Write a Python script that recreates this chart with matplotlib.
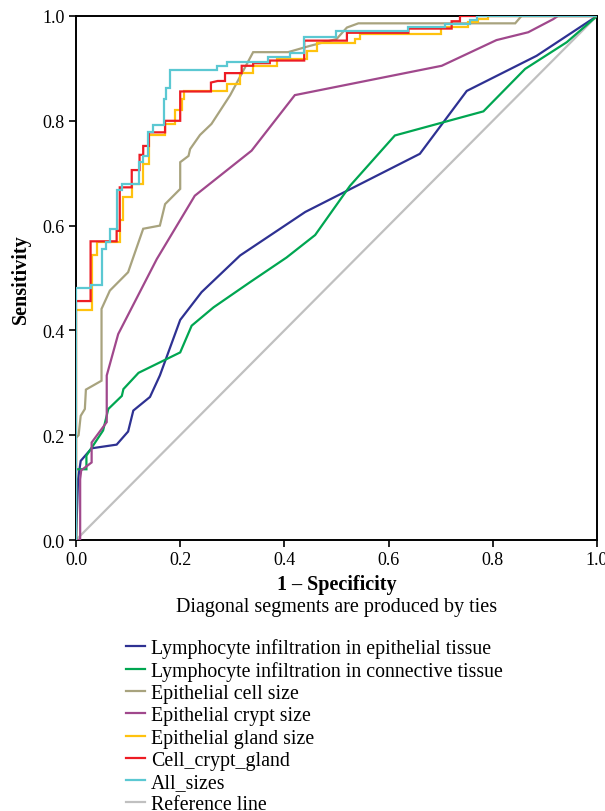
import matplotlib
matplotlib.use("Agg")
import matplotlib.pyplot as plt

plt.rcParams['font.family'] = ['Liberation Serif', 'DejaVu Serif']

labels = ["Lymphocyte infiltration in epithelial tissue",
          "Lymphocyte infiltration in connective tissue",
          "Epithelial cell size",
          "Epithelial crypt size",
          "Epithelial gland size",
          "Cell_crypt_gland",
          "All_sizes",
          "Reference line"]
colors = ["#2E3192", "#00A651", "#A8A37E", "#A0488C",
          "#FFC20E", "#ED1C24", "#5BC8D2", "#C0C0C0"]

lymph_epi_x = [0, 0.004, 0.009, 0.03, 0.078, 0.1, 0.11, 0.142, 0.161, 0.2, 0.241, 0.315, 0.44, 0.66, 0.75, 0.884, 1.0]
lymph_epi_y = [0, 0.116, 0.151, 0.175, 0.182, 0.207, 0.247, 0.273, 0.314, 0.42, 0.473, 0.543, 0.626, 0.737, 0.857, 0.924, 1.0]

lymph_con_x = [0, 0, 0.02, 0.02, 0.052, 0.062, 0.088, 0.091, 0.12, 0.2, 0.222, 0.264, 0.334, 0.404, 0.459, 0.526, 0.612, 0.782, 0.862, 0.942, 1.0]
lymph_con_y = [0, 0.135, 0.135, 0.161, 0.209, 0.25, 0.275, 0.288, 0.319, 0.358, 0.409, 0.444, 0.492, 0.539, 0.582, 0.676, 0.772, 0.818, 0.899, 0.95, 1.0]

cell_x = [0, 0, 0.005, 0.009, 0.017, 0.019, 0.049, 0.049, 0.065, 0.1, 0.129, 0.161, 0.171, 0.2, 0.2, 0.216, 0.219, 0.238, 0.26, 0.296, 0.34, 0.407, 0.449, 0.5, 0.52, 0.542, 0.843, 0.855, 1.0]
cell_y = [0, 0.195, 0.2, 0.237, 0.25, 0.287, 0.304, 0.441, 0.476, 0.511, 0.594, 0.6, 0.641, 0.67, 0.721, 0.733, 0.746, 0.773, 0.794, 0.849, 0.931, 0.931, 0.943, 0.956, 0.978, 0.986, 0.986, 1.0, 1.0]

crypt_x = [0, 0.008, 0.008, 0.01, 0.03, 0.03, 0.059, 0.059, 0.081, 0.155, 0.228, 0.337, 0.42, 0.702, 0.807, 0.868, 0.916, 0.925, 1.0]
crypt_y = [0, 0, 0.116, 0.133, 0.148, 0.186, 0.225, 0.314, 0.393, 0.536, 0.657, 0.743, 0.849, 0.905, 0.954, 0.969, 0.994, 1.0, 1.0]

gland_x = [0, 0, 0.03, 0.03, 0.04, 0.04, 0.084, 0.084, 0.091, 0.091, 0.108, 0.108, 0.129, 0.129, 0.14, 0.14, 0.171, 0.171, 0.19, 0.19, 0.203, 0.203, 0.208, 0.208, 0.289, 0.289, 0.315, 0.315, 0.339, 0.339, 0.385, 0.385, 0.443, 0.443, 0.462, 0.462, 0.536, 0.536, 0.545, 0.545, 0.70, 0.70, 0.753, 0.753, 0.772, 0.772, 0.79, 0.79, 1.0]
gland_y = [0, 0.439, 0.439, 0.543, 0.543, 0.568, 0.568, 0.61, 0.61, 0.654, 0.654, 0.679, 0.679, 0.718, 0.718, 0.772, 0.772, 0.794, 0.794, 0.82, 0.82, 0.842, 0.842, 0.856, 0.856, 0.871, 0.871, 0.891, 0.891, 0.905, 0.905, 0.918, 0.918, 0.934, 0.934, 0.948, 0.948, 0.957, 0.957, 0.966, 0.966, 0.979, 0.979, 0.988, 0.988, 0.995, 0.995, 1.0, 1.0]

ccg_x = [0, 0, 0.028, 0.028, 0.078, 0.078, 0.084, 0.084, 0.107, 0.107, 0.122, 0.122, 0.129, 0.129, 0.14, 0.14, 0.171, 0.171, 0.2, 0.2, 0.259, 0.259, 0.272, 0.286, 0.286, 0.318, 0.318, 0.34, 0.34, 0.372, 0.372, 0.438, 0.438, 0.52, 0.52, 0.638, 0.638, 0.721, 0.721, 0.737, 0.737, 1.0]
ccg_y = [0, 0.456, 0.456, 0.570, 0.570, 0.59, 0.59, 0.673, 0.673, 0.706, 0.706, 0.735, 0.735, 0.752, 0.752, 0.778, 0.778, 0.8, 0.8, 0.856, 0.856, 0.873, 0.876, 0.876, 0.891, 0.891, 0.905, 0.905, 0.910, 0.910, 0.915, 0.915, 0.953, 0.953, 0.968, 0.968, 0.976, 0.976, 0.99, 0.99, 1.0, 1.0]

all_x = [0, 0, 0.028, 0.028, 0.05, 0.05, 0.057, 0.057, 0.066, 0.066, 0.078, 0.078, 0.088, 0.088, 0.121, 0.121, 0.128, 0.128, 0.139, 0.139, 0.148, 0.148, 0.168, 0.168, 0.173, 0.173, 0.18, 0.18, 0.27, 0.27, 0.289, 0.289, 0.369, 0.369, 0.41, 0.41, 0.438, 0.438, 0.499, 0.499, 0.638, 0.638, 0.708, 0.708, 0.756, 0.756, 0.769, 0.769, 1.0]
all_y = [0, 0.481, 0.481, 0.487, 0.487, 0.555, 0.555, 0.568, 0.568, 0.594, 0.594, 0.667, 0.667, 0.679, 0.679, 0.721, 0.721, 0.733, 0.733, 0.778, 0.778, 0.792, 0.792, 0.842, 0.842, 0.863, 0.863, 0.897, 0.897, 0.905, 0.905, 0.913, 0.913, 0.922, 0.922, 0.929, 0.929, 0.960, 0.960, 0.971, 0.971, 0.979, 0.979, 0.985, 0.985, 0.992, 0.992, 1.0, 1.0]

ref_x = [0, 1]
ref_y = [0, 1]

series = [(lymph_epi_x, lymph_epi_y), (lymph_con_x, lymph_con_y), (cell_x, cell_y),
          (crypt_x, crypt_y), (gland_x, gland_y), (ccg_x, ccg_y), (all_x, all_y), (ref_x, ref_y)]

x_ticks = [0.0, 0.2, 0.4, 0.6, 0.8, 1.0]
y_ticks = [0.0, 0.2, 0.4, 0.6, 0.8, 1.0]

fig = plt.figure(figsize=(6.05, 8.12), dpi=100)
ax = fig.add_axes([76/605, 1-541/812, 521/605, 524/812])

handles = []
for i, ((xs, ys), lab, col) in enumerate(zip(series, labels, colors)):
    z = 1 if lab == "Reference line" else 2 + i
    h, = ax.plot(xs, ys, color=col, lw=1.6, label=lab, zorder=z, solid_joinstyle='miter')
    handles.append(h)

ax.set_xlim(0, 1)
ax.set_ylim(0, 1)
ax.set_xticks(x_ticks)
ax.set_yticks(y_ticks)
ax.set_xticklabels([f"{v:.1f}" for v in x_ticks], fontsize=13)
ax.set_yticklabels([f"{v:.1f}" for v in y_ticks], fontsize=13)
ax.tick_params(direction='out', length=5, width=1.2, pad=3)
for s in ax.spines.values():
    s.set_linewidth(1.4)
ax.set_xlabel("1 \u2013 Specificity", fontsize=14.5, fontweight='bold', labelpad=4)
ax.set_ylabel("Sensitivity", fontsize=14.5, fontweight='bold', labelpad=8)

fig.text(337/605, 1-608/812, "Diagonal segments are produced by ties", fontsize=14.5,
         ha='center', va='center')

fig.legend(handles=handles, labels=labels, loc='upper left',
           bbox_to_anchor=(126/605, 1-639/812), frameon=False, fontsize=14.3,
           handlelength=0.95, handletextpad=0.3, labelspacing=0.16, borderpad=0,
           borderaxespad=0)

fig.savefig("out.png", dpi=100)
